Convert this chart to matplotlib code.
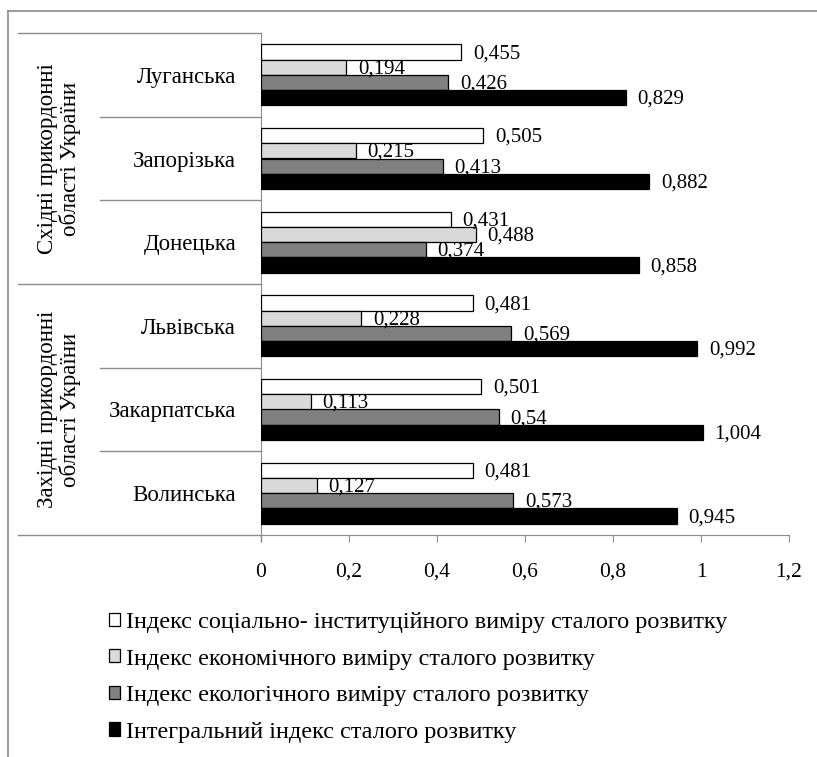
import matplotlib
matplotlib.use("Agg")
import matplotlib.pyplot as plt
from matplotlib.lines import Line2D
from matplotlib.patches import Patch
import numpy as np

plt.rcParams['font.family'] = ['Liberation Serif', 'DejaVu Serif']

regions = ["Луганська", "Запорізька", "Донецька", "Львівська", "Закарпатська", "Волинська"]
groups = ["Східні прикордонні\nобласті України", "Західні прикордонні\nобласті України"]
series_names = [
    "Індекс соціально- інституційного виміру сталого розвитку",
    "Індекс економічного виміру сталого розвитку",
    "Індекс екологічного виміру сталого розвитку",
    "Інтегральний індекс сталого розвитку",
]
social = [0.455, 0.505, 0.431, 0.481, 0.501, 0.481]
economic = [0.194, 0.215, 0.488, 0.228, 0.113, 0.127]
ecological = [0.426, 0.413, 0.374, 0.569, 0.54, 0.573]
integral = [0.829, 0.882, 0.858, 0.992, 1.004, 0.945]
series = [social, economic, ecological, integral]
colors = ["#ffffff", "#d9d9d9", "#808080", "#000000"]
xticks = [0, 0.2, 0.4, 0.6, 0.8, 1.0, 1.2]
xticklabels = ["0", "0,2", "0,4", "0,6", "0,8", "1", "1,2"]

W, H = 817, 757
fig = plt.figure(figsize=(W / 100, H / 100), dpi=100)
ax_l, ax_r, ax_t, ax_b = 261, 789, 33, 535
ax = fig.add_axes([ax_l / W, 1 - ax_b / H, (ax_r - ax_l) / W, (ax_b - ax_t) / H])

FS_DATA = 15
FS_TICK = 15.5
FS_CAT = 16.5
FS_GROUP = 16.5
FS_LEG = 17.5
grey = "#8c8c8c"
h = 0.1825
n = len(regions)
centers = np.arange(n) + 0.5
for j, (vals, c) in enumerate(zip(series, colors)):
    ys = centers + (j - 1.5) * h
    ax.barh(ys, vals, height=h, color=c, edgecolor="black", linewidth=0.9, zorder=3)
    for y, v in zip(ys, vals):
        lab = f"{v:g}".replace(".", ",")
        ax.annotate(lab, (v, y), xytext=(8.5, -1.2), textcoords="offset points",
                    va="center", ha="left", fontsize=FS_DATA, zorder=4)

ax.set_xlim(0, 1.2)
ax.set_ylim(n, 0)
ax.set_xticks(xticks)
ax.set_xticklabels(xticklabels, fontsize=FS_TICK)
ax.set_yticks(centers)
ax.set_yticklabels(regions, fontsize=FS_CAT)
ax.tick_params(axis="y", length=0, pad=18)
ax.tick_params(axis="x", length=5, color=grey, direction="out", pad=15)
for s in ["top", "right"]:
    ax.spines[s].set_visible(False)
ax.spines["left"].set_color(grey)
ax.spines["bottom"].set_color(grey)

# category table lines
trans = ax.get_yaxis_transform()
x_outer = (18 - ax_l) / (ax_r - ax_l)
x_inner = (100 - ax_l) / (ax_r - ax_l)
for b in range(n + 1):
    x0 = x_outer if b % 3 == 0 else x_inner
    ax.add_line(Line2D([x0, 0], [b, b], transform=trans, color=grey, lw=1, clip_on=False))
ax.add_line(Line2D([0, 0], [n, n + 0.07], transform=ax.transData, color=grey, lw=1, clip_on=False))

# group labels
for g, label in enumerate(groups):
    ax.text((59 - ax_l) / (ax_r - ax_l), g * 3 + 1.5, label, transform=trans,
            rotation=90, ha="center", va="center", multialignment="center",
            fontsize=FS_GROUP, linespacing=1.1)

# outer border
fig.add_artist(Line2D([8 / W, 1], [1 - 11 / H, 1 - 11 / H], transform=fig.transFigure, color=grey, lw=1.2))
fig.add_artist(Line2D([8 / W, 8 / W], [1 - 11 / H, 0], transform=fig.transFigure, color=grey, lw=1.2))

handles = [Patch(facecolor=c, edgecolor="black", linewidth=0.9) for c in colors]
fig.legend(handles, series_names, loc="upper left", bbox_to_anchor=(109 / W, 1 - 612 / H),
           bbox_transform=fig.transFigure, frameon=False, fontsize=FS_LEG,
           handlelength=0.45, handleheight=0.45, handletextpad=0.25,
           labelspacing=0.64, borderpad=0, borderaxespad=0)

fig.savefig("out.png", dpi=100)
